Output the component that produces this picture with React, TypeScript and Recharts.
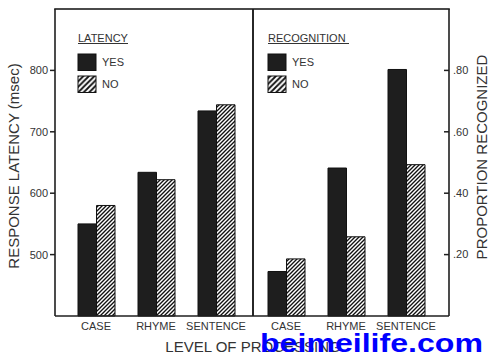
import React from 'react';
import { BarChart, Bar, XAxis, YAxis } from 'recharts';

const categories = ['CASE', 'RHYME', 'SENTENCE'];
const latencyYes = [550, 634, 734];
const latencyNo = [580, 622, 744];
const recognitionYes = [0.145, 0.482, 0.803];
const recognitionNo = [0.186, 0.258, 0.493];
const latencyTicks = [500, 600, 700, 800];
const recognitionTicks = [0.2, 0.4, 0.6, 0.8];
const latencyDomain = [400, 900];
const recognitionDomain = [0, 1];
const legendLabels = ['YES', 'NO'];

const latencyData = categories.map((c, i) => ({ category: c, yes: latencyYes[i], no: latencyNo[i] }));
const recognitionData = categories.map((c, i) => ({ category: c, yes: recognitionYes[i], no: recognitionNo[i] }));

const FONT = '"Liberation Sans", Arial, Helvetica, sans-serif';
const INK = '#1f1f1f';
const TEXT = '#333';
const SOLID = '#1e1e1e';

const PLOT_TOP = 9;
const LEFT_AXIS_W = 55;
const RIGHT_AXIS_W = 41;
const TOTAL_W = 490;

const axisLine = { stroke: INK, strokeWidth: 1.6 };
const tickStyle = { fontSize: 11, fill: TEXT, fontFamily: FONT };

const fmtProp = (v: number) => '.' + Math.round(v * 100).toString().padStart(2, '0');

const Hatch = ({ id, size }: { id: string; size: number }) => (
  <pattern id={id} patternUnits="userSpaceOnUse" width={size} height={size}>
    <rect width={size} height={size} fill="#fff" />
    <path
      d={`M0,${size} L${size},0 M${-size / 2},${size / 2} L${size / 2},${-size / 2} M${size / 2},${size * 1.5} L${size * 1.5},${size / 2}`}
      stroke="#111"
      strokeWidth={size * 0.34}
    />
  </pattern>
);

const EmptyTick = () => <g />;

const RightTick = (props: any) => {
  const { x, y, payload } = props;
  return (
    <g>
      <line x1={x - 9} x2={x - 4} y1={y} y2={y} stroke={INK} strokeWidth={1.5} />
      <text x={x} y={y} dy="0.35em" fontSize={11} fill={TEXT} fontFamily={FONT} textAnchor="start">
        {fmtProp(payload.value)}
      </text>
    </g>
  );
};

const Legend = ({ x, title, titleWidth }: { x: number; title: string; titleWidth: number }) => (
  <g fontFamily={FONT} fontSize={11} fill={TEXT}>
    <text x={x} y={41.5}>{title}</text>
    <line x1={x} x2={x + titleWidth} y1={43.5} y2={43.5} stroke={TEXT} strokeWidth={1} />
    <rect x={x} y={54} width={18} height={16.5} fill={SOLID} stroke="#111" strokeWidth={1} />
    <text x={x + 24} y={62.3} dy="0.35em">{legendLabels[0]}</text>
    <rect x={x} y={76} width={18} height={16.5} fill="url(#hatchLegend)" stroke="#111" strokeWidth={1} />
    <text x={x + 24} y={84} dy="0.35em">{legendLabels[1]}</text>
  </g>
);

export default function App() {
  return (
    <div style={{ position: 'absolute', left: 0, top: 0, width: 490, height: 357, background: '#fff' }}>
      <div style={{ position: 'absolute', left: 0, top: 0 }}>
        <BarChart
          width={257}
          height={357}
          data={latencyData}
          margin={{ top: PLOT_TOP, right: 0, bottom: 0, left: 0 }}
          barGap={0}
          barSize={18.5}
        >
          <defs>
            <Hatch id="hatchL" size={4} />
          </defs>
          <XAxis
            dataKey="category"
            height={41}
            axisLine={axisLine}
            tickLine={false}
            tickSize={4}
            tickMargin={2}
            tick={tickStyle}
            interval={0}
            padding={{ left: 11, right: 7 }}
          />
          <YAxis
            yAxisId="l"
            domain={latencyDomain}
            ticks={latencyTicks}
            width={LEFT_AXIS_W}
            tickSize={5}
            tickMargin={2}
            tick={tickStyle}
            tickLine={{ stroke: INK, strokeWidth: 1.5 }}
            axisLine={axisLine}
            interval={0}
          />
          <YAxis
            yAxisId="div"
            orientation="right"
            domain={latencyDomain}
            ticks={latencyTicks}
            width={4}
            tickSize={3}
            tick={EmptyTick}
            tickLine={{ stroke: INK, strokeWidth: 1.5 }}
            axisLine={axisLine}
            interval={0}
          />
          <Bar yAxisId="l" dataKey="yes" fill={SOLID} stroke="#111" strokeWidth={1} isAnimationActive={false} />
          <Bar yAxisId="l" dataKey="no" fill="url(#hatchL)" stroke="#111" strokeWidth={1} isAnimationActive={false} />
        </BarChart>
      </div>
      <div style={{ position: 'absolute', left: 240, top: 0 }}>
        <BarChart
          width={250}
          height={357}
          data={recognitionData}
          margin={{ top: PLOT_TOP, right: 0, bottom: 0, left: 0 }}
          barGap={0}
          barSize={18.5}
        >
          <defs>
            <Hatch id="hatchR" size={4} />
          </defs>
          <XAxis
            dataKey="category"
            height={41}
            axisLine={axisLine}
            tickLine={false}
            tickSize={4}
            tickMargin={2}
            tick={tickStyle}
            interval={0}
            padding={{ left: 3, right: 13 }}
          />
          <YAxis
            yAxisId="div"
            orientation="left"
            domain={recognitionDomain}
            ticks={recognitionTicks}
            width={13}
            tickSize={3}
            tick={EmptyTick}
            tickLine={{ stroke: INK, strokeWidth: 1.5 }}
            axisLine={axisLine}
            interval={0}
          />
          <YAxis
            yAxisId="r"
            orientation="right"
            domain={recognitionDomain}
            ticks={recognitionTicks}
            width={RIGHT_AXIS_W}
            tickSize={4}
            tickMargin={0}
            tickLine={false}
            tick={RightTick}
            axisLine={axisLine}
            interval={0}
          />
          <Bar yAxisId="r" dataKey="yes" fill={SOLID} stroke="#111" strokeWidth={1} isAnimationActive={false} />
          <Bar yAxisId="r" dataKey="no" fill="url(#hatchR)" stroke="#111" strokeWidth={1} isAnimationActive={false} />
        </BarChart>
      </div>
      <svg
        width={490}
        height={357}
        style={{ position: 'absolute', left: 0, top: 0, pointerEvents: 'none' }}
      >
        <defs>
          <Hatch id="hatchLegend" size={5.5} />
        </defs>
        <rect x={LEFT_AXIS_W - 0.8} y={PLOT_TOP - 0.8} width={TOTAL_W - RIGHT_AXIS_W - LEFT_AXIS_W + 1.6} height={1.6} fill={INK} />
        <Legend x={78} title="LATENCY" titleWidth={50} />
        <Legend x={268} title="RECOGNITION" titleWidth={81} />
        <text x={14} y={166} transform="rotate(-90, 14, 166)" textAnchor="middle" dy="0.35em" fontSize={15} fontFamily={FONT} fill={TEXT}>
          RESPONSE LATENCY (msec)
        </text>
        <text x={481.5} y={157} transform="rotate(-90, 481.5, 157)" textAnchor="middle" dy="0.35em" fontSize={15} fontFamily={FONT} fill={TEXT}>
          PROPORTION RECOGNIZED
        </text>
        <text x={253} y={346.7} textAnchor="middle" dy="0.35em" fontSize={15} fontFamily={FONT} fill={TEXT}>
          LEVEL OF PROCESSING
        </text>
        <text x={260} y={351.5} fontSize={25} fontWeight="bold" fontFamily={FONT} fill="#0000ff" textLength={223} lengthAdjust="spacingAndGlyphs">
          beimeilife.com
        </text>
      </svg>
    </div>
  );
}
